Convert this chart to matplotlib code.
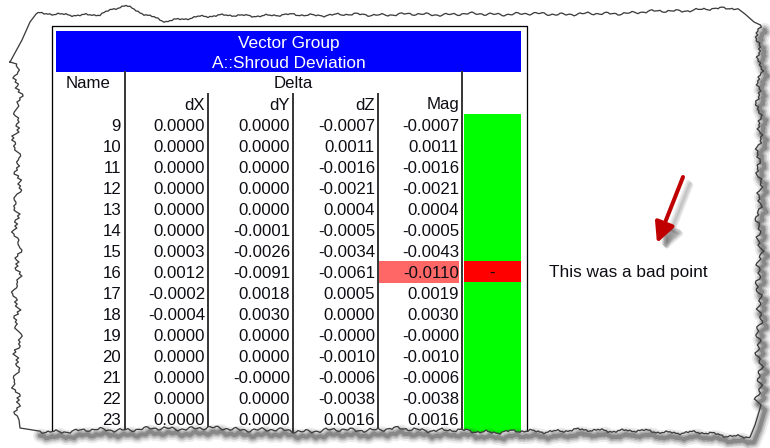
import numpy as np
import matplotlib
matplotlib.use("Agg")
import matplotlib.pyplot as plt
from matplotlib.patches import Rectangle, PathPatch
from matplotlib.path import Path

# ---------------- data ----------------
title_lines = ["Vector Group", "A::Shroud Deviation"]
col_headers = ["dX", "dY", "dZ", "Mag"]
names = [9, 10, 11, 12, 13, 14, 15, 16, 17, 18, 19, 20, 21, 22, 23, 24]
dX = [0.0000, 0.0000, 0.0000, 0.0000, 0.0000, 0.0000, 0.0003, 0.0012,
      -0.0002, -0.0004, 0.0000, 0.0000, 0.0000, 0.0000, 0.0000, 0.0000]
dY = [0.0000, 0.0000, 0.0000, 0.0000, 0.0000, -0.0001, -0.0026, -0.0091,
      0.0018, 0.0030, 0.0000, 0.0000, -0.0, 0.0000, 0.0000, -0.0001]
dZ = [-0.0007, 0.0011, -0.0016, -0.0021, 0.0004, -0.0005, -0.0034, -0.0061,
      0.0005, 0.0000, -0.0, -0.0010, -0.0006, -0.0038, 0.0016, 0.0002]
Mag = [-0.0007, 0.0011, -0.0016, -0.0021, 0.0004, -0.0005, -0.0043, -0.0110,
       0.0019, 0.0030, -0.0, -0.0010, -0.0006, -0.0038, 0.0016, 0.0002]
status = ["ok"] * 7 + ["bad"] + ["ok"] * 8
annotation = "This was a bad point"

# ---------------- layout ----------------
W, H = 770, 448
fig = plt.figure(figsize=(W / 100, H / 100), dpi=100)
ax = fig.add_axes([0, 0, 1, 1])
ax.set_xlim(0, W)
ax.set_ylim(H, 0)
ax.axis("off")

FONT = "Liberation Sans"
FS = 12.1
TXT = "#0d0d14"
LINE = "#3a3a3a"
PX = 0.72  # one pixel in points

tbl_left, tbl_right, tbl_top = 52, 527, 26
blue_l, blue_r, blue_t, blue_b = 56, 521, 31, 72
row_h = 21
hdr1_top = 72
hdr2_top = 94
data_top = 115
col_lines = [125, 208, 293, 378, 462]   # right edges of Name, dX, dY, dZ, Mag
status_l, status_r = 464, 521

# outer frame
ax.plot([tbl_left, tbl_left, tbl_right, tbl_right],
        [H, tbl_top, tbl_top, H], color="black", lw=1.3 * PX, zorder=3)

# blue title
ax.add_patch(Rectangle((blue_l, blue_t), blue_r - blue_l, blue_b - blue_t,
                       facecolor="#0000FF", edgecolor="none", zorder=2))
cx = (blue_l + blue_r) / 2
ax.text(cx, 43.5, title_lines[0], color="white", fontsize=FS + 0.3, family=FONT,
        ha="center", va="center", zorder=4)
ax.text(cx, 63, title_lines[1], color="white", fontsize=FS + 0.3, family=FONT,
        ha="center", va="center", zorder=4)

# header rows
ax.text(66, hdr1_top + row_h / 2 + 1, "Name", color=TXT, fontsize=FS,
        family=FONT, ha="left", va="center", zorder=4)
ax.text((col_lines[0] + col_lines[4]) / 2, hdr1_top + row_h / 2 + 1, "Delta",
        color=TXT, fontsize=FS, family=FONT, ha="center", va="center", zorder=4)
for j, h in enumerate(col_headers):
    ax.text(col_lines[j + 1] - 3, hdr2_top + row_h / 2 + 0.5, h, color=TXT,
            fontsize=FS, family=FONT, ha="right", va="center", zorder=4)

# column lines
for j, x in enumerate(col_lines):
    top = hdr1_top if j in (0, 4) else hdr2_top
    ax.plot([x, x], [top, H], color=LINE, lw=2 * PX, zorder=3)

# data rows
for i, nm in enumerate(names):
    y0 = data_top + i * row_h
    yc = y0 + row_h / 2 + 0.8
    vals = [dX[i], dY[i], dZ[i], Mag[i]]
    if status[i] == "bad":
        ax.add_patch(Rectangle((col_lines[3] + 1, y0 - 1), col_lines[4] - col_lines[3] - 4,
                               row_h + 1, facecolor="#FF6666", edgecolor="none", zorder=1))
    ax.add_patch(Rectangle((status_l, y0 - 1), status_r - status_l, row_h + 1,
                           facecolor="#00FF00" if status[i] == "ok" else "#FF0000",
                           edgecolor="none", zorder=1))
    if status[i] == "bad":
        ax.text((status_l + status_r) / 2, yc, "-", color=TXT, fontsize=FS,
                family=FONT, ha="center", va="center", zorder=4)
    ax.text(col_lines[0] - 4, yc, str(nm), color=TXT, fontsize=FS, family=FONT,
            ha="right", va="center", zorder=4)
    for j, v in enumerate(vals):
        ax.text(col_lines[j + 1] - 3, yc, f"{v:.4f}", color=TXT, fontsize=FS,
                family=FONT, ha="right", va="center", zorder=4)

# annotation arrow + text
x0, y0, x1, y1 = 683, 177, 657, 243
for k, a in enumerate([0.08, 0.10, 0.12, 0.12]):
    ax.annotate("", xy=(x1 + 5 + k, y1 + 5 + k), xytext=(x0 + 5 + k, y0 + 5 + k),
                arrowprops=dict(arrowstyle="-|>,head_length=1.2,head_width=0.6",
                                color="#555555", lw=3.4, alpha=a, shrinkA=0, shrinkB=0),
                zorder=5)
ax.annotate("", xy=(x1, y1), xytext=(x0, y0),
            arrowprops=dict(arrowstyle="-|>,head_length=1.2,head_width=0.6",
                            color="#C00000", lw=2.9, shrinkA=0, shrinkB=0),
            zorder=6)
ax.text(549, 273, annotation, color=TXT, fontsize=12.4, family=FONT,
        ha="left", va="center", zorder=6)

# ---------------- torn paper edge (decoration) ----------------
def jag(t, a=1.0, ph=0.0):
    return a * (1.8 * np.sin(0.83 * t + ph) + 1.3 * np.sin(2.1 * t + 1.3 + ph)
                + 0.8 * np.sin(4.7 * t + 2.1 + ph) + 1.2 * np.sin(0.31 * t + 0.7 * ph)
                + 0.6 * np.sin(7.3 * t + ph))

xs = np.arange(36, 739, 2.0)
top_base = np.interp(xs, [36, 100, 125, 145, 165, 200, 300, 500, 600, 738],
                     [14, 15, 5, 14, 22, 16, 15, 14, 14, 8])
top = np.column_stack([xs, top_base + jag(xs / 3, 0.45)])
ys = np.arange(25, 402, 2.0)
right = np.column_stack([759 + jag(ys / 3, 1.0, 1.0), ys])
xb = np.arange(750, 34, -2.0)
bot_base = np.interp(xb, [35, 100, 200, 300, 400, 500, 600, 700, 750],
                     [432, 430, 428, 431, 429, 432, 430, 433, 437])
bottom = np.column_stack([xb, bot_base + jag(xb / 3, 0.6, 2.0)])
yl = np.arange(420, 62, -2.0)
left = np.column_stack([17 + jag(yl / 4, 1.3, 0.5), yl])
corner_tl = np.array([[10, 62], [22, 40], [30, 22]])
corner_tr = np.array([[745, 14], [754, 22]])
corner_br = np.array([[761, 405], [755, 425]])
corner_bl = np.array([[20, 428]])
outline = np.vstack([corner_tl, top, corner_tr, right, corner_br, bottom,
                     corner_bl, left])

# white mask outside paper (inner ring reversed so it becomes a hole)
outer = [(-5, -5), (-5, H + 5), (W + 5, H + 5), (W + 5, -5), (-5, -5)]
inner = [tuple(p) for p in outline]
verts = outer + inner + [inner[0]]
codes = ([Path.MOVETO] + [Path.LINETO] * 3 + [Path.CLOSEPOLY] +
         [Path.MOVETO] + [Path.LINETO] * (len(inner) - 1) + [Path.CLOSEPOLY])
ax.add_patch(PathPatch(Path(verts, codes), facecolor="white",
                       edgecolor="none", zorder=10))

# shadow on right and bottom
shadow = np.vstack([right, corner_br, bottom])
for lw, a in [(14, 0.10), (10, 0.16), (7, 0.22), (4, 0.35)]:
    ax.plot(shadow[:, 0] + 4, shadow[:, 1] + 5, color="#404040", lw=lw * PX,
            alpha=a, solid_capstyle="round", solid_joinstyle="round", zorder=11)
ax.plot(np.append(outline[:, 0], outline[0, 0]),
        np.append(outline[:, 1], outline[0, 1]),
        color="#3c3c3c", lw=1.3 * PX, zorder=12)

fig.savefig("out.png", dpi=100, facecolor="white")
